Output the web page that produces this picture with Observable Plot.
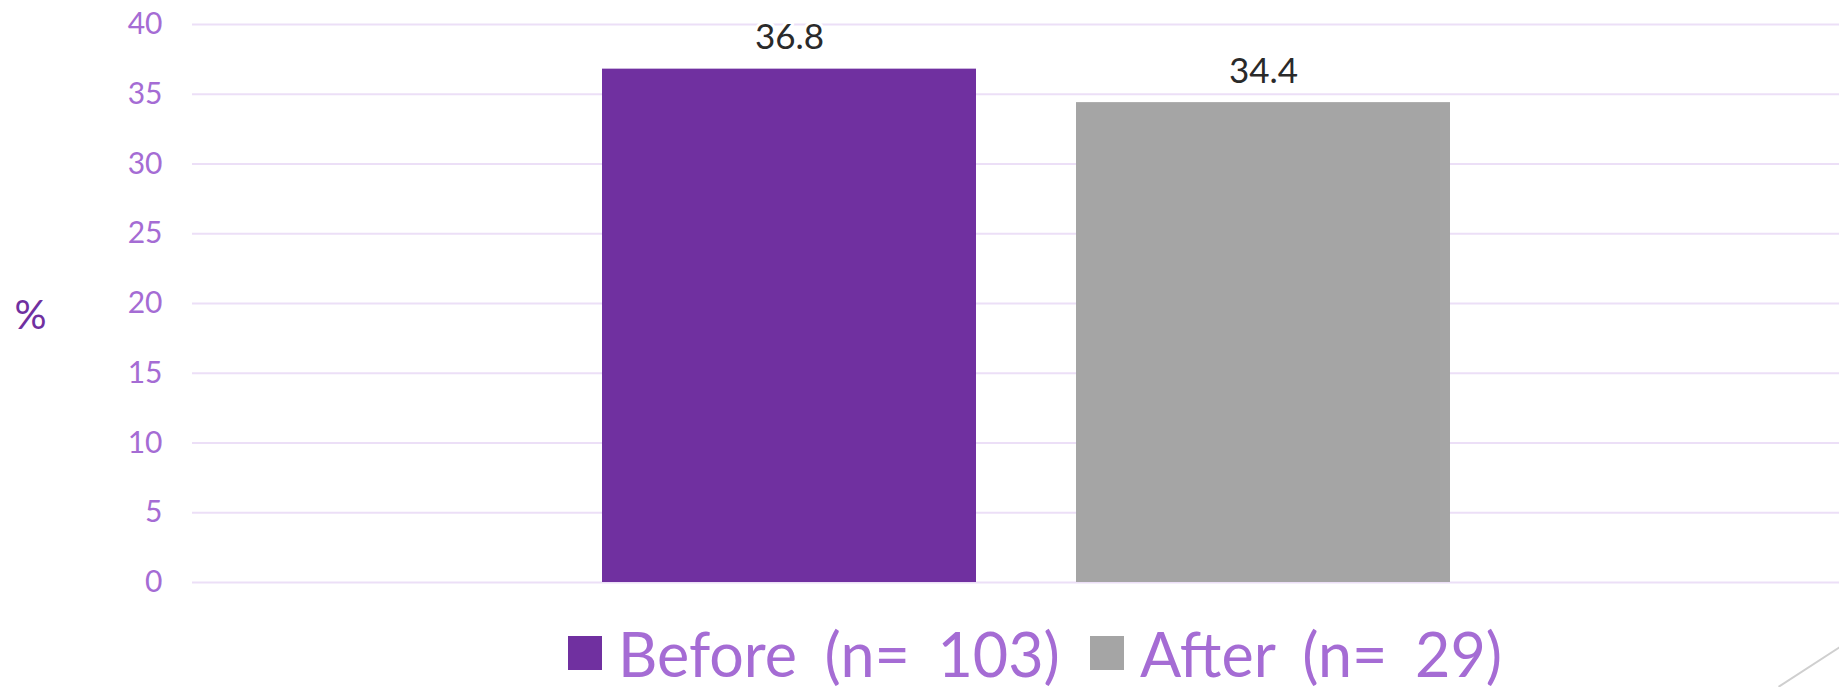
<!DOCTYPE html>
<html>
<head>
<meta charset="utf-8">
<script src="https://cdn.jsdelivr.net/npm/d3@7"></script>
<script src="https://cdn.jsdelivr.net/npm/@observablehq/plot@0.6"></script>
<style>
  html, body { margin: 0; padding: 0; background: #ffffff; overflow: hidden; }
  body { width: 1839px; height: 687px; position: relative; font-family: Lato, "Open Sans", sans-serif; }
  #chart svg { display: block; }
  #legend {
    display: flex; align-items: center; height: 106px;
    margin-left: 568px; color: #A56CD4; font-size: 61px; line-height: 1;
    word-spacing: 12px;
  }
  .item { display: flex; align-items: center; margin-right: 30px; white-space: pre; }
  .swatch { width: 34px; height: 34px; margin-right: 16px; }
  #deco {
    position: absolute; left: 1778px; top: 686px; width: 140px; height: 1.5px;
    background: #cfcfcf; transform: rotate(-33deg); transform-origin: 0 0;
  }
</style>
</head>
<body>
<div id="chart"></div>
<div id="legend"></div>
<div id="deco"></div>
<script>
// Share of respondents (%) before and after
const groups = ["Before (n= 103)", "After (n= 29)"];
const values = [36.8, 34.4];
const colors = ["#7030A0", "#A5A5A5"];
const yTicks = [0, 5, 10, 15, 20, 25, 30, 35, 40];

const data = groups.map((g, i) => ({group: g, value: values[i]}));

const chart = Plot.plot({
  width: 1839,
  height: 600,
  marginLeft: 192,
  marginRight: 0,
  marginTop: 24,
  marginBottom: 18,
  style: {fontFamily: "Lato, 'Open Sans', sans-serif", background: "white"},
  x: {domain: groups, paddingInner: 0.21, paddingOuter: 0.839, align: 0.513, axis: null},
  y: {domain: [0, 40], ticks: yTicks},
  color: {domain: groups, range: colors},
  marks: [
    Plot.ruleY(yTicks, {stroke: "#ECDFF7", strokeWidth: 2}),
    Plot.axisY({
      ticks: yTicks, tickSize: 0, tickPadding: 30, label: null,
      fill: "#A56CD4", fontSize: 30
    }),
    Plot.text(["%"], {
      frameAnchor: "left", dx: -162, dy: 13,
      fill: "#7030A0", fontSize: 40, textAnchor: "middle"
    }),
    Plot.barY(data, {x: "group", y: "value", fill: "group"}),
    Plot.text(data, {
      x: "group", y: "value", text: d => d.value.toFixed(1),
      dy: -31, fill: "#2A2A2A", fontSize: 35,
      stroke: "white", strokeWidth: 6, paintOrder: "stroke"
    })
  ]
});
document.getElementById("chart").append(chart);

// Legend below the chart
const legend = d3.select("#legend");
groups.forEach((g, i) => {
  const item = legend.append("div").attr("class", "item");
  item.append("div").attr("class", "swatch").style("background", colors[i]);
  item.append("span").text(g);
});
</script>
</body>
</html>
